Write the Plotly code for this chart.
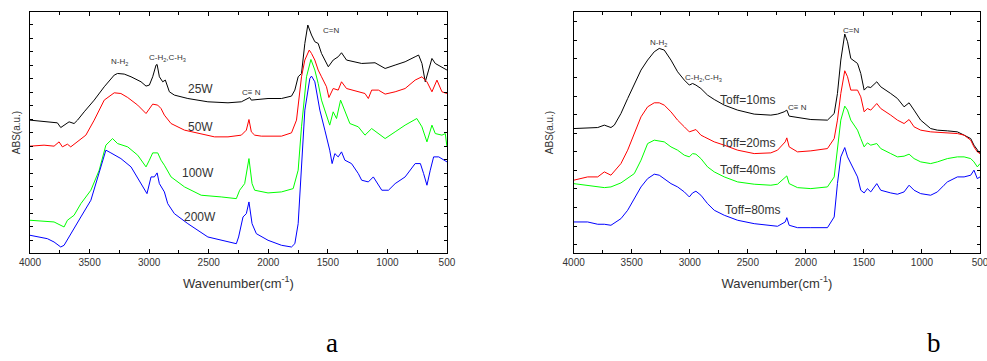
import plotly.graph_objects as go

# ---------------- Panel a: power series ----------------
wn_25w = [4000,3882,3770,3742,3714,3672,3630,3601,3545,3461,3377,3293,3265,3209,3152,3068,3026,2998,2970,2942,2933,2914,2886,2864,2830,2788,2675,2507,2338,2226,2156,2142,2002,1889,1805,1777,1749,1721,1693,1668,1637,1609,1581,1553,1496,1455,1413,1385,1343,1273,1216,1104,1019,935,851,767,738,710,682,654,626,598,542,500]
abs_25w = [1.327,1.31,1.30,1.253,1.277,1.31,1.293,1.327,1.41,1.527,1.66,1.777,1.793,1.787,1.76,1.71,1.667,1.677,1.76,1.877,1.883,1.76,1.71,1.727,1.61,1.577,1.543,1.51,1.50,1.51,1.553,1.527,1.543,1.543,1.567,1.627,1.76,1.793,2.093,2.277,2.177,2.11,2.093,1.993,1.86,1.927,1.96,2.0,1.927,1.91,1.893,1.90,1.843,1.877,1.91,1.96,1.977,1.893,1.71,1.827,1.943,1.893,1.86,1.827]

wn_50w = [4000,3882,3798,3756,3728,3686,3658,3601,3531,3461,3377,3293,3237,3180,3096,3026,2998,2970,2928,2900,2872,2816,2703,2563,2451,2338,2226,2184,2162,2142,2114,2058,1889,1805,1763,1721,1693,1656,1637,1609,1581,1553,1511,1491,1455,1413,1385,1343,1244,1188,1160,1132,1075,1019,935,851,767,710,668,626,584,542,500]
abs_50w = [1.067,1.077,1.067,1.11,1.06,1.087,1.06,1.11,1.177,1.327,1.527,1.60,1.593,1.553,1.477,1.393,1.443,1.487,1.477,1.443,1.377,1.293,1.227,1.187,1.16,1.16,1.177,1.227,1.333,1.21,1.177,1.167,1.167,1.20,1.327,1.76,1.927,2.027,1.993,1.927,1.827,1.76,1.66,1.553,1.643,1.627,1.71,1.643,1.61,1.593,1.543,1.627,1.627,1.587,1.61,1.643,1.727,1.76,1.71,1.61,1.727,1.61,1.593]

wn_100w = [4000,3882,3798,3714,3686,3630,3573,3489,3419,3363,3307,3265,3180,3096,3026,2998,2970,2928,2900,2872,2816,2703,2563,2395,2268,2240,2198,2162,2136,2114,2002,1889,1791,1749,1721,1679,1642,1609,1581,1553,1511,1484,1455,1427,1393,1357,1315,1244,1188,1132,1075,1019,935,851,753,710,668,626,598,542,514,500]
abs_100w = [0.327,0.32,0.31,0.26,0.327,0.377,0.493,0.627,0.827,1.077,1.143,1.093,1.06,0.977,0.86,0.927,1.0,1.0,0.927,0.877,0.76,0.66,0.577,0.56,0.543,0.627,0.693,0.943,0.693,0.627,0.60,0.61,0.643,0.827,1.26,1.76,1.933,1.827,1.693,1.527,1.36,1.277,1.41,1.343,1.527,1.427,1.293,1.26,1.177,1.243,1.193,1.143,1.21,1.277,1.343,1.26,1.11,1.277,1.193,1.177,1.193,1.06]

wn_200w = [4000,3910,3854,3798,3742,3714,3658,3573,3489,3419,3363,3321,3237,3152,3068,3018,2984,2956,2933,2914,2872,2844,2788,2675,2507,2338,2268,2249,2212,2184,2162,2136,2100,2002,1889,1805,1777,1749,1721,1693,1651,1637,1609,1567,1525,1484,1464,1441,1413,1385,1357,1301,1244,1216,1160,1118,1047,991,935,851,767,723,696,668,640,612,569,528,500]
abs_200w = [0.177,0.16,0.143,0.11,0.06,0.077,0.193,0.36,0.527,0.793,1.027,1.0,0.943,0.86,0.693,0.593,0.76,0.76,0.80,0.693,0.61,0.493,0.393,0.293,0.16,0.11,0.093,0.16,0.36,0.393,0.51,0.293,0.193,0.127,0.077,0.06,0.093,0.293,0.927,1.427,1.743,1.767,1.71,1.427,1.227,1.027,0.893,0.993,0.96,1.01,0.927,0.893,0.793,0.727,0.71,0.76,0.627,0.627,0.693,0.76,0.893,0.893,0.793,0.677,0.827,0.96,0.96,0.927,0.91]

# ---------------- Panel b: Toff series ----------------
wn_10ms = [4000,3880,3793,3736,3679,3650,3593,3535,3478,3420,3363,3306,3263,3220,3162,3105,3047,3004,2976,2947,2904,2875,2847,2789,2703,2588,2445,2302,2244,2187,2164,2144,2072,1957,1814,1756,1728,1699,1665,1641,1613,1555,1527,1498,1470,1441,1389,1355,1269,1211,1154,1111,1068,1011,925,867,781,695,637,580,552,523,500]
abs_10ms = [1.243,1.253,1.253,1.277,1.253,1.277,1.393,1.543,1.693,1.827,1.927,2.01,2.043,2.027,1.927,1.81,1.727,1.677,1.693,1.677,1.643,1.61,1.577,1.533,1.477,1.427,1.387,1.377,1.387,1.41,1.427,1.367,1.353,1.333,1.327,1.393,1.593,1.927,2.187,2.11,1.943,1.893,1.793,1.627,1.66,1.653,1.71,1.66,1.593,1.543,1.46,1.50,1.427,1.327,1.243,1.227,1.22,1.21,1.177,1.143,1.077,1.027,0.993]

wn_20ms = [4000,3880,3793,3736,3679,3593,3535,3478,3420,3363,3306,3263,3220,3162,3105,3047,3004,2947,2904,2875,2789,2703,2588,2445,2302,2244,2178,2164,2144,2072,1957,1814,1756,1728,1699,1665,1641,1613,1555,1527,1498,1470,1441,1389,1355,1269,1211,1154,1111,1068,1011,925,781,695,637,580,552,523,500]
abs_20ms = [0.727,0.76,0.76,0.81,0.777,0.893,1.027,1.193,1.36,1.46,1.50,1.50,1.477,1.41,1.327,1.26,1.21,1.233,1.177,1.16,1.11,1.077,1.027,0.993,1.0,1.027,1.11,1.15,1.06,1.01,1.02,1.043,1.143,1.327,1.593,1.82,1.76,1.627,1.627,1.56,1.41,1.443,1.427,1.493,1.443,1.377,1.327,1.293,1.333,1.26,1.227,1.21,1.20,1.193,1.177,1.127,1.06,1.01,0.993]

wn_40ms = [4000,3880,3793,3736,3679,3593,3478,3420,3363,3306,3220,3162,3105,3047,3004,2976,2947,2904,2847,2789,2703,2588,2445,2302,2244,2187,2164,2144,2072,1957,1814,1756,1728,1699,1665,1641,1613,1555,1527,1498,1470,1441,1389,1355,1269,1211,1154,1111,1068,1011,925,867,781,695,637,580,552,523,500]
abs_40ms = [0.693,0.677,0.667,0.653,0.66,0.70,0.793,0.927,1.093,1.127,1.11,1.06,1.027,0.977,0.96,0.993,0.987,0.943,0.86,0.81,0.76,0.71,0.687,0.677,0.687,0.743,0.77,0.693,0.653,0.643,0.66,0.76,1.027,1.327,1.467,1.427,1.327,1.227,1.143,1.06,1.10,1.077,1.093,1.043,0.993,0.96,0.967,0.987,0.943,0.91,0.893,0.91,0.943,0.96,0.96,0.943,0.91,0.86,0.893]

wn_80ms = [4000,3880,3793,3736,3679,3593,3535,3478,3420,3363,3306,3263,3220,3162,3105,3047,3004,2976,2947,2904,2847,2789,2703,2588,2445,2302,2244,2178,2164,2144,2072,1957,1814,1756,1728,1699,1665,1641,1613,1555,1527,1498,1470,1441,1389,1355,1269,1211,1154,1111,1068,1011,925,867,810,781,695,637,580,552,523,500]
abs_80ms = [0.31,0.31,0.287,0.287,0.277,0.343,0.427,0.543,0.66,0.743,0.787,0.777,0.743,0.693,0.66,0.61,0.56,0.60,0.617,0.577,0.493,0.427,0.377,0.327,0.293,0.277,0.267,0.31,0.353,0.277,0.253,0.253,0.253,0.36,0.693,0.96,1.053,0.96,0.893,0.76,0.627,0.60,0.643,0.61,0.693,0.627,0.60,0.587,0.61,0.677,0.627,0.593,0.577,0.61,0.677,0.71,0.76,0.76,0.777,0.827,0.743,0.76]

x_tick_vals = [4000, 3500, 3000, 2500, 2000, 1500, 1000, 500]
x_tick_text = ["4000", "3500", "3000", "2500", "2000", "1500", "1000", "500"]
x_minor_vals = [3750, 3250, 2750, 2250, 1750, 1250, 750]

series_a = [("25W", wn_25w, abs_25w, "#000000"), ("50W", wn_50w, abs_50w, "#ff0000"),
            ("100W", wn_100w, abs_100w, "#00ff00"), ("200W", wn_200w, abs_200w, "#0000ff")]
series_b = [("Toff=10ms", wn_10ms, abs_10ms, "#000000"), ("Toff=20ms", wn_20ms, abs_20ms, "#ff0000"),
            ("Toff=40ms", wn_40ms, abs_40ms, "#00ff00"), ("Toff=80ms", wn_80ms, abs_80ms, "#0000ff")]

for s in series_a + series_b:
    assert len(s[1]) == len(s[2]), s[0]

fig = go.Figure()
for name, xs, ys, col in series_a:
    fig.add_trace(go.Scatter(x=xs, y=ys, mode="lines", name=name,
                             line=dict(color=col, width=1), xaxis="x", yaxis="y"))
for name, xs, ys, col in series_b:
    fig.add_trace(go.Scatter(x=xs, y=ys, mode="lines", name=name,
                             line=dict(color=col, width=1), xaxis="x2", yaxis="y2"))

FONT = "Liberation Sans, Arial, sans-serif"
TXT = "#333333"

def xaxis_cfg(domain, anchor):
    return dict(domain=domain, anchor=anchor, range=[4000, 500], tickmode="array",
                tickvals=x_tick_vals, ticktext=x_tick_text, automargin=False,
                ticklabeloverflow="allow",
                ticks="inside", ticklen=4, tickcolor="black", tickwidth=1,
                showline=True, linecolor="black", linewidth=1, mirror="ticks",
                showgrid=False, zeroline=False,
                minor=dict(tickmode="array", tickvals=x_minor_vals, ticks="inside",
                           ticklen=3, tickcolor="black", showgrid=False),
                tickfont=dict(family=FONT, size=10, color=TXT),
                title=dict(text="Wavenumber(cm<sup>-1</sup>)", standoff=11,
                           font=dict(family=FONT, size=13, color=TXT)))

def yaxis_cfg(anchor, tick0, dtick, standoff):
    return dict(domain=[0, 1], range=[0, 2.407], anchor=anchor, automargin=False,
                showticklabels=False, tickmode="linear", tick0=tick0, dtick=dtick,
                ticks="inside", ticklen=3, tickcolor="black",
                showline=True, linecolor="black", linewidth=1, mirror="ticks",
                showgrid=False, zeroline=False,
                title=dict(text="ABS(a.u.)", standoff=standoff,
                           font=dict(family=FONT, size=10, color=TXT)))

fig.update_layout(
    width=987, height=361,
    margin=dict(l=30, r=7, t=12, b=108),
    paper_bgcolor="white", plot_bgcolor="white",
    showlegend=False,
    xaxis=xaxis_cfg([0, 0.4389], "y"),
    yaxis=yaxis_cfg("x", 0.127, 0.1344, 6),
    xaxis2=xaxis_cfg([0.5723, 1], "y2"),
    yaxis2=yaxis_cfg("x2", 0.084, 0.1855, 17),
)

# peak / series labels (data coordinates)
labels_a = [("N-H<sub>2</sub>", 3247, 1.907, 8), ("C-H<sub>2</sub>,C-H<sub>3</sub>", 2843, 1.947, 8),
            ("25W", 2565, 1.637, 12), ("C≡ N", 2143, 1.607, 8), ("C=N", 1477, 2.227, 8),
            ("50W", 2565, 1.257, 12), ("100W", 2590, 0.797, 12), ("200W", 2573, 0.357, 12)]
labels_b = [("N-H<sub>2</sub>", 3266, 2.097, 8), ("C-H<sub>2</sub>,C-H<sub>3</sub>", 2878, 1.747, 8),
            ("Toff=10ms", 2500, 1.527, 12), ("C≡ N", 2069, 1.457, 8), ("C=N", 1613, 2.227, 8),
            ("Toff=20ms", 2500, 1.097, 12), ("Toff=40ms", 2500, 0.827, 12), ("Toff=80ms", 2457, 0.427, 12)]

for txt, x, y, sz in labels_a:
    fig.add_annotation(x=x, y=y, xref="x", yref="y", text=txt, showarrow=False,
                       font=dict(family=FONT, size=sz, color=TXT))
for txt, x, y, sz in labels_b:
    fig.add_annotation(x=x, y=y, xref="x2", yref="y2", text=txt, showarrow=False,
                       font=dict(family=FONT, size=sz, color=TXT))

# panel letters (paper coordinates are relative to the plot area 30..980 x 12..253)
SERIF = "Liberation Serif, Times New Roman, serif"
fig.add_annotation(x=(332 - 30) / 950, y=(253 - 360) / 241, xref="paper", yref="paper", text="a",
                   showarrow=False, xanchor="center", yanchor="bottom",
                   font=dict(family=SERIF, size=27, color="black"))
fig.add_annotation(x=(934 - 30) / 950, y=(253 - 360) / 241, xref="paper", yref="paper", text="b",
                   showarrow=False, xanchor="center", yanchor="bottom",
                   font=dict(family=SERIF, size=27, color="black"))

fig.write_html(
    "out.html",
    config={"displayModeBar": False},
    post_script=("document.documentElement.style.margin='0';"
                 "document.body.style.margin='0';"
                 "document.documentElement.style.overflow='hidden';"
                 "document.body.style.overflow='hidden';"),
)
